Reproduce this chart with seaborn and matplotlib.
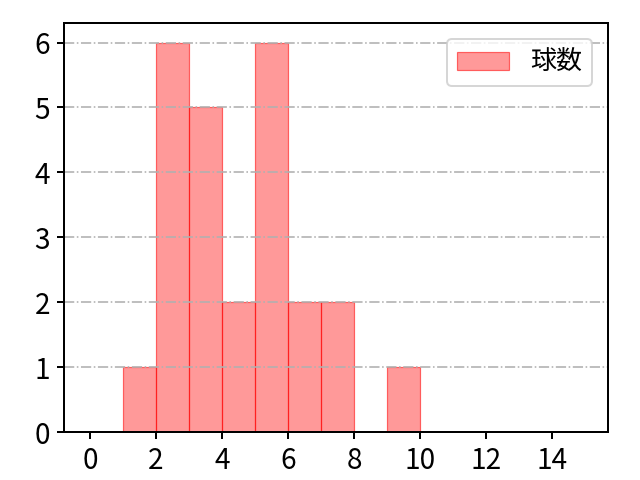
import matplotlib
matplotlib.use("Agg")
import matplotlib.pyplot as plt
import seaborn as sns
import numpy as np

# data
bin_edges = [1, 2, 3, 4, 5, 6, 7, 8, 9, 10]
counts = [1, 6, 5, 2, 6, 2, 2, 0, 1]
bin_centers = [1.5, 2.5, 3.5, 4.5, 5.5, 6.5, 7.5, 8.5, 9.5]
label = "球数"
xticks = [0, 2, 4, 6, 8, 10, 12, 14]

plt.rcParams['font.family'] = ['Noto Sans CJK JP', 'DejaVu Sans']
plt.rcParams['font.size'] = 14
plt.rcParams['axes.linewidth'] = 1.0

fig, ax = plt.subplots(figsize=(640/144, 480/144), dpi=144)
sns.histplot(x=bin_centers, weights=counts, bins=bin_edges, color="red",
             alpha=0.4, edgecolor=(1, 0, 0, 0.55), linewidth=0.6, label=label, ax=ax)
for p in ax.patches:
    if p.get_height() == 0:
        p.set_visible(False)
ax.set_xlim(-0.79, 15.7)
ax.set_xticks(xticks)
ax.set_ylabel("")
ax.set_xlabel("")
ax.tick_params(labelsize=14, length=3.5, width=1.0)
ax.grid(axis="y", linestyle="-.", color="#b0b0b0", linewidth=0.8)
ax.set_axisbelow(False)
for s in ax.spines.values():
    s.set_zorder(5)
ax.legend(loc="upper right", fontsize=13, borderaxespad=0.6)
fig.subplots_adjust(left=0.1, right=0.95, top=0.952, bottom=0.1)
fig.savefig("out.png", dpi=144)
